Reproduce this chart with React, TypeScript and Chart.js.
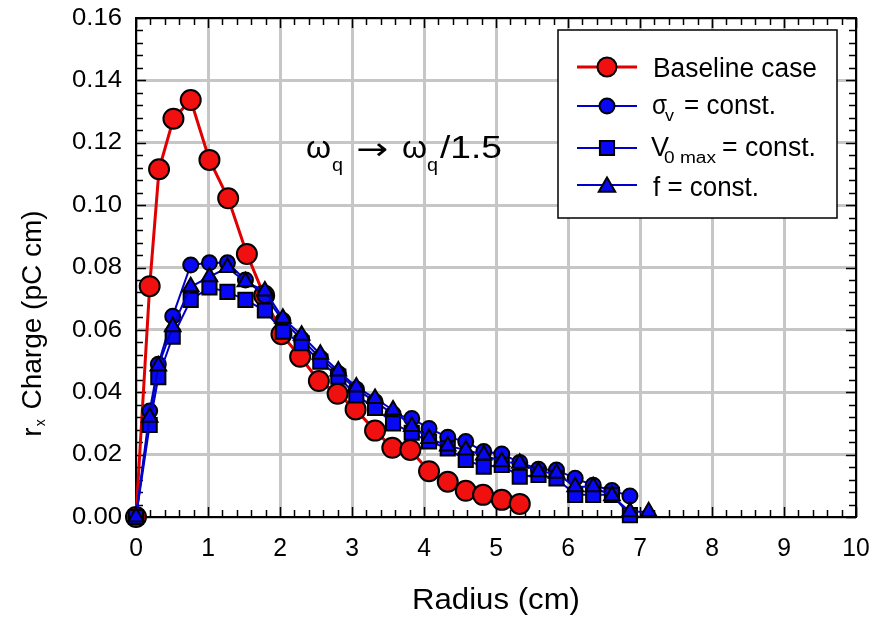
import React, { useEffect, useRef } from 'react';
import { Chart, registerables } from 'chart.js';

Chart.register(...registerables);

// ---- data ----
const radiusBaseline = [0, 0.19, 0.32, 0.52, 0.76, 1.02, 1.28, 1.54, 1.78, 2.02, 2.28, 2.54, 2.8, 3.05, 3.32, 3.56, 3.81, 4.07, 4.33, 4.58, 4.82, 5.08, 5.33];
const chargeBaseline = [0, 0.074, 0.1115, 0.1277, 0.1337, 0.1145, 0.1022, 0.0843, 0.071, 0.0586, 0.0514, 0.0436, 0.0395, 0.0345, 0.0277, 0.0222, 0.0215, 0.0147, 0.0113, 0.0084, 0.0071, 0.0055, 0.0042];

const radiusSigma = [0, 0.19, 0.31, 0.51, 0.76, 1.02, 1.27, 1.52, 1.79, 2.04, 2.3, 2.56, 2.81, 3.06, 3.32, 3.57, 3.83, 4.07, 4.33, 4.58, 4.83, 5.08, 5.33, 5.59, 5.84, 6.1, 6.35, 6.61, 6.86];
const chargeSigma = [0, 0.034, 0.049, 0.0644, 0.0808, 0.0815, 0.0815, 0.076, 0.071, 0.063, 0.057, 0.051, 0.046, 0.041, 0.037, 0.033, 0.0316, 0.0284, 0.0256, 0.0242, 0.021, 0.0202, 0.0175, 0.0153, 0.0151, 0.0124, 0.0102, 0.0085, 0.0067];

const radiusV0 = [0, 0.19, 0.31, 0.51, 0.76, 1.02, 1.27, 1.52, 1.79, 2.04, 2.3, 2.56, 2.81, 3.06, 3.32, 3.57, 3.83, 4.07, 4.33, 4.58, 4.83, 5.08, 5.33, 5.59, 5.84, 6.1, 6.35, 6.61, 6.86];
const chargeV0 = [0, 0.0295, 0.0448, 0.0578, 0.0696, 0.0736, 0.0722, 0.0696, 0.0662, 0.0594, 0.0557, 0.0498, 0.045, 0.039, 0.035, 0.03, 0.027, 0.0242, 0.022, 0.0183, 0.0161, 0.0167, 0.0129, 0.0135, 0.0124, 0.0071, 0.0071, 0.0071, 0.0006];

const radiusF = [0, 0.19, 0.31, 0.51, 0.76, 1.02, 1.27, 1.52, 1.79, 2.04, 2.3, 2.56, 2.81, 3.06, 3.32, 3.57, 3.83, 4.07, 4.33, 4.58, 4.83, 5.08, 5.33, 5.59, 5.84, 6.1, 6.35, 6.61, 6.86, 7.12];
const chargeF = [0, 0.032, 0.0484, 0.061, 0.0738, 0.077, 0.08, 0.0754, 0.0725, 0.0637, 0.0583, 0.0522, 0.0468, 0.0417, 0.038, 0.0343, 0.029, 0.0252, 0.0228, 0.0215, 0.0199, 0.0177, 0.0172, 0.0145, 0.014, 0.0097, 0.0097, 0.0068, 0.0017, 0.0017];

const xTickValues = [0, 1, 2, 3, 4, 5, 6, 7, 8, 9, 10];
const yTickValues = [0, 0.02, 0.04, 0.06, 0.08, 0.1, 0.12, 0.14, 0.16];

const xTitle = 'Radius (cm)';
const yTitleMain = 'r';
const yTitleSub = 'x';
const yTitleRest = ' Charge (pC cm)';

const RED = '#f01010';
const RED_LINE = '#e00000';
const BLUE = '#0808f4';
const BLUE_LINE = '#0000c8';
const FONT = '"Liberation Sans", Arial, sans-serif';

function pts(xs: number[], ys: number[]) {
  return xs.map((x, i) => ({ x, y: ys[i] }));
}

function text(
  ctx: CanvasRenderingContext2D,
  s: string,
  x: number,
  y: number,
  size: number,
  opts: { align?: CanvasTextAlign; baseline?: CanvasTextBaseline; sx?: number; family?: string; width?: number } = {}
) {
  ctx.save();
  ctx.font = `${size}px ${opts.family || FONT}`;
  ctx.fillStyle = '#000';
  ctx.textAlign = opts.align || 'left';
  ctx.textBaseline = opts.baseline || 'alphabetic';
  let sx = opts.sx || 1;
  if (opts.width) sx = opts.width / ctx.measureText(s).width;
  ctx.translate(x, y);
  ctx.scale(sx, 1);
  ctx.fillText(s, 0, 0);
  ctx.restore();
}

function marker(ctx: CanvasRenderingContext2D, style: string, x: number, y: number, r: number, fill: string) {
  ctx.save();
  ctx.fillStyle = fill;
  ctx.strokeStyle = '#000';
  ctx.lineWidth = 2;
  ctx.beginPath();
  if (style === 'circle') {
    ctx.arc(x, y, r, 0, Math.PI * 2);
  } else if (style === 'rect') {
    const s = r * Math.SQRT1_2;
    ctx.rect(x - s, y - s, 2 * s, 2 * s);
  } else {
    const h = r * 1.5;
    const w = r * Math.sqrt(3) / 2;
    ctx.moveTo(x, y - r);
    ctx.lineTo(x + w, y - r + h);
    ctx.lineTo(x - w, y - r + h);
    ctx.closePath();
  }
  ctx.fill();
  ctx.stroke();
  ctx.restore();
}

const framePlugin = {
  id: 'frameTicks',
  beforeDatasetsDraw(chart: any) {
    const { ctx, chartArea } = chart;
    const { left, right, top, bottom } = chartArea;
    const xs = chart.scales.x;
    const ys = chart.scales.y;
    ctx.save();
    ctx.strokeStyle = '#000';
    ctx.lineWidth = 1.5;
    ctx.beginPath();
    for (let i = 0; i <= 50; i++) {
      const px = Math.round(xs.getPixelForValue(i * 0.2)) + 0.5;
      const len = i % 5 === 0 ? 10 : 7;
      ctx.moveTo(px, bottom);
      ctx.lineTo(px, bottom - len);
      ctx.moveTo(px, top);
      ctx.lineTo(px, top + len);
    }
    for (let i = 0; i <= 40; i++) {
      const py = Math.round(ys.getPixelForValue(i * 0.004)) + 0.5;
      const len = i % 5 === 0 ? 10 : 7;
      ctx.moveTo(left, py);
      ctx.lineTo(left + len, py);
      ctx.moveTo(right, py);
      ctx.lineTo(right - len, py);
    }
    ctx.stroke();
    ctx.lineWidth = 2;
    ctx.strokeRect(left, top, right - left, bottom - top);
    ctx.restore();
  },
  afterDraw(chart: any) {
    const { ctx, chartArea } = chart;
    const xs = chart.scales.x;
    const ys = chart.scales.y;
    // tick labels
    xTickValues.forEach((v) => {
      text(ctx, String(v), xs.getPixelForValue(v), 549, 26, { align: 'center', baseline: 'middle', sx: 0.95 });
    });
    yTickValues.forEach((v) => {
      text(ctx, v.toFixed(2), 122, ys.getPixelForValue(v), 24, { align: 'right', baseline: 'middle', width: 50 });
    });
    // x title
    text(ctx, xTitle, (chartArea.left + chartArea.right) / 2, 601, 30, { align: 'center', baseline: 'middle', width: 168 });
    // y title with subscript
    ctx.save();
    ctx.translate(31, 324);
    ctx.rotate(-Math.PI / 2);
    ctx.font = `28px ${FONT}`;
    const w1 = ctx.measureText(yTitleMain).width;
    const w3 = ctx.measureText(yTitleRest).width;
    ctx.font = `14px ${FONT}`;
    const w2 = ctx.measureText(yTitleSub).width + 2;
    const total = w1 + w2 + w3;
    let cx = -total / 2;
    text(ctx, yTitleMain, cx, 10, 28);
    cx += w1 + 1;
    text(ctx, yTitleSub, cx, 14, 14);
    cx += w2;
    text(ctx, yTitleRest, cx, 10, 28);
    ctx.restore();

    // annotation  ωq → ωq/1.5
    text(ctx, 'ω', 306, 158, 32, { width: 25 });
    text(ctx, 'q', 332, 171, 19, { width: 11 });
    text(ctx, '→', 356, 159, 30, { width: 32, family: '"DejaVu Sans", sans-serif' });
    text(ctx, 'ω', 402, 158, 32, { width: 25 });
    text(ctx, 'q', 427, 171, 19, { width: 11 });
    text(ctx, '/1.5', 440, 158, 32, { width: 62 });

    // legend box
    ctx.save();
    ctx.fillStyle = '#fff';
    ctx.fillRect(558, 30, 279, 188);
    ctx.strokeStyle = '#000';
    ctx.lineWidth = 1.5;
    ctx.strokeRect(558, 30, 279, 188);
    const rows = [
      { y: 67, color: RED_LINE, fill: RED, style: 'circle', r: 9.5, lw: 3 },
      { y: 106, color: BLUE_LINE, fill: BLUE, style: 'circle', r: 7.5, lw: 2 },
      { y: 148, color: BLUE_LINE, fill: BLUE, style: 'rect', r: 10, lw: 2 },
      { y: 185, color: BLUE_LINE, fill: BLUE, style: 'triangle', r: 9.5, lw: 2 },
    ];
    rows.forEach((row) => {
      ctx.strokeStyle = row.color;
      ctx.lineWidth = row.lw;
      ctx.beginPath();
      ctx.moveTo(577, row.y);
      ctx.lineTo(637, row.y);
      ctx.stroke();
      marker(ctx, row.style, 607, row.y + (row.style === 'triangle' ? 2 : 0), row.r, row.fill);
    });
    ctx.restore();
    text(ctx, 'Baseline case', 653, 77, 27, { width: 164 });
    text(ctx, 'σ', 652, 114, 27, { width: 15 });
    text(ctx, 'v', 665, 121, 16, { width: 9 });
    text(ctx, '= const.', 684, 114, 27, { width: 92 });
    text(ctx, 'V', 651, 156, 27, { width: 18 });
    text(ctx, '0 max', 664, 163, 16, { width: 52 });
    text(ctx, '= const.', 722, 156, 27, { width: 94 });
    text(ctx, 'f = const.', 653, 196, 27, { width: 106 });
  },
};

export default function App() {
  const ref = useRef<HTMLCanvasElement | null>(null);
  useEffect(() => {
    if (!ref.current) return;
    const common = { showLine: true, tension: 0, clip: false as any, pointBorderColor: '#000', pointBorderWidth: 2, pointHoverRadius: 0 };
    const chart = new Chart(ref.current, {
      type: 'scatter',
      data: {
        datasets: [
          {
            ...common,
            label: 'f = const.',
            data: pts(radiusF, chargeF),
            borderColor: BLUE_LINE,
            borderWidth: 2,
            backgroundColor: BLUE,
            pointStyle: 'triangle',
            pointRadius: 9,
            order: 1,
          },
          {
            ...common,
            label: 'V0 max = const.',
            data: pts(radiusV0, chargeV0),
            borderColor: BLUE_LINE,
            borderWidth: 2,
            backgroundColor: BLUE,
            pointStyle: 'rect',
            pointRadius: 10,
            order: 2,
          },
          {
            ...common,
            label: 'σv = const.',
            data: pts(radiusSigma, chargeSigma),
            borderColor: BLUE_LINE,
            borderWidth: 2,
            backgroundColor: BLUE,
            pointStyle: 'circle',
            pointRadius: 7.5,
            order: 3,
          },
          {
            ...common,
            label: 'Baseline case',
            data: pts(radiusBaseline, chargeBaseline),
            borderColor: RED_LINE,
            borderWidth: 3,
            backgroundColor: RED,
            pointStyle: 'circle',
            pointRadius: 10,
            order: 4,
          },
        ],
      },
      options: {
        responsive: false,
        animation: false,
        events: [],
        layout: { padding: { left: 0, top: 18, right: 27, bottom: 0 } },
        plugins: { legend: { display: false }, tooltip: { enabled: false }, title: { display: false } },
        scales: {
          x: {
            type: 'linear',
            min: 0,
            max: 10,
            ticks: { stepSize: 1, display: false },
            grid: { color: '#c6c6c6', lineWidth: 3, drawTicks: false },
            border: { display: false },
            afterFit: (s: any) => { s.height = 101; },
          },
          y: {
            type: 'linear',
            min: 0,
            max: 0.16,
            ticks: { stepSize: 0.02, display: false },
            grid: { color: '#c6c6c6', lineWidth: 3, drawTicks: false },
            border: { display: false },
            afterFit: (s: any) => { s.width = 136; },
          },
        },
      },
      plugins: [framePlugin],
    });
    return () => chart.destroy();
  }, []);
  return (
    <div style={{ position: 'absolute', left: 0, top: 0, width: 883, height: 618, background: '#fff' }}>
      <canvas ref={ref} width={883} height={618} style={{ display: 'block' }} />
    </div>
  );
}
